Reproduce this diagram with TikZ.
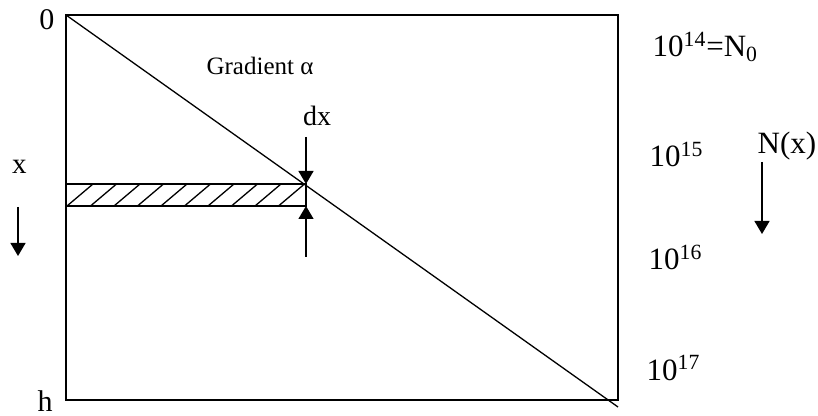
\documentclass[tikz,border=0pt]{standalone}
\usepackage{fontspec}
\setmainfont{Liberation Serif}
\usetikzlibrary{arrows.meta}

\begin{document}
\begin{tikzpicture}[x=0.5pt, y=-0.5pt, line width=0.65pt,
    >={Triangle[width=7.5pt,length=6.5pt]},
    conc/.style={inner sep=0pt, anchor=base west, font=\fontsize{15.5}{18}\selectfont},
    axlbl/.style={inner sep=0pt, anchor=base, font=\fontsize{15}{17}\selectfont}]
    \useasboundingbox (0,0) rectangle (818,416);

    % device outline and doping profile
    \coordinate (top) at (66,15);
    \coordinate (bot) at (66,400);
    \coordinate (tr) at (618,15);
    \coordinate (br) at (618,400);
    \coordinate (tail) at (618,407);
    \draw (top) -- (tr) -- (br) -- (bot) -- cycle;
    \draw[line width=1.1pt] (66,67) -- (66,136) (66,352) -- (66,376);
    \draw (top) -- (tail);

    % slice of width dx
    \coordinate (sl) at (66,184);
    \coordinate (sr) at (306,206);
    \begin{scope}
        \clip (sl) rectangle (sr);
        \foreach \k in {0,...,9}
            \draw (67+23.5*\k,206) -- (93+23.5*\k,184);
    \end{scope}
    \draw (sl) rectangle (sr);

    \node[axlbl, font=\fontsize{14}{16}\selectfont] (dx) at (317,126) {dx};
    \coordinate (dxa) at (306,137);
    \coordinate (dxb) at (306,184);
    \coordinate (dxc) at (306,257);
    \coordinate (dxd) at (306,206);
    \draw[->] (dxa) -- (dxb);
    \draw[->] (dxc) -- (dxd);

    \node[axlbl, font=\fontsize{12.5}{15}\selectfont] at (260,75) {Gradient α};

    % depth axis
    \node[axlbl] (zero) at (47,30) {0};
    \node[axlbl] (hh) at (45,411) {h};
    \node[axlbl, font=\fontsize{14.5}{17}\selectfont] (xl) at (19.5,174) {x};
    \coordinate (xa) at (18,207);
    \coordinate (xb) at (18,256);
    \draw[->] (xa) -- (xb);

    % concentration scale
    \node[conc] (n14) at (652,57) {10\textsuperscript{14}=N\textsubscript{0}};
    \node[conc] (n15) at (649,167) {10\textsuperscript{15}};
    \node[conc] (n16) at (648,270) {10\textsuperscript{16}};
    \node[conc] (n17) at (646,380) {10\textsuperscript{17}};
    \node[conc] (nx) at (757,154) {N(x)};
    \coordinate (na) at (762,162);
    \coordinate (nb) at (762,234);
    \draw[->] (na) -- (nb);
\end{tikzpicture}
\end{document}
